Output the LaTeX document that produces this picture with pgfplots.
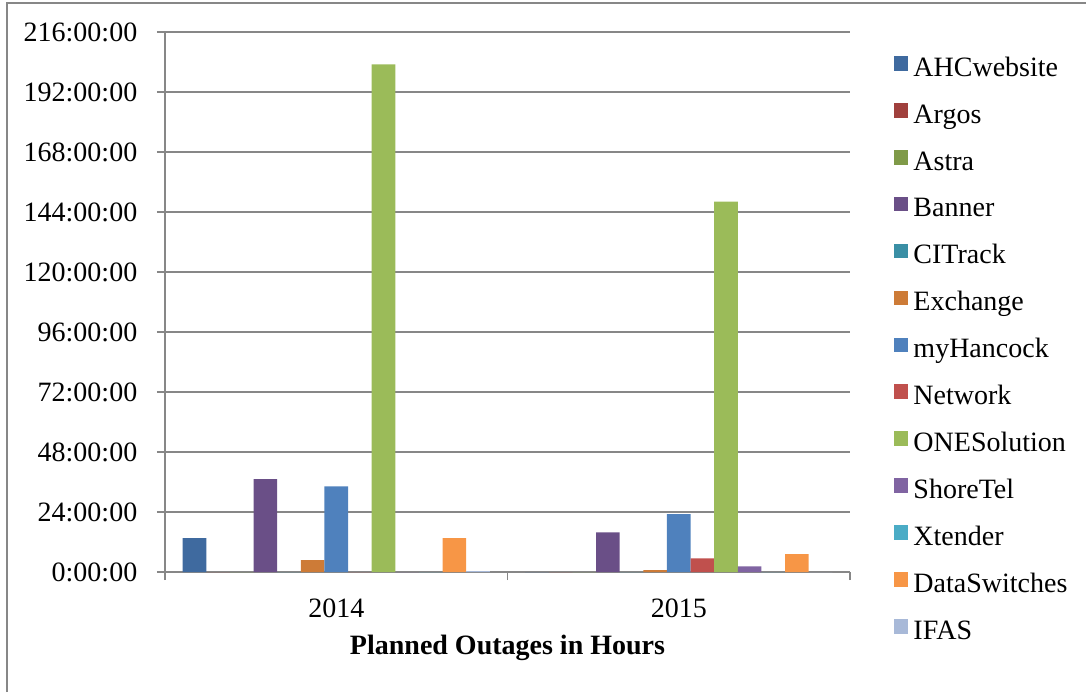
\documentclass[border=0pt]{standalone}
\usepackage{pgfplots}
\pgfplotsset{compat=1.18}
\usepackage{fontspec}
\setmainfont{Liberation Serif}

\definecolor{cAHC}{HTML}{3F6A9F}
\definecolor{cArgos}{HTML}{A0403D}
\definecolor{cAstra}{HTML}{7F9A48}
\definecolor{cBanner}{HTML}{6A4F87}
\definecolor{cCITrack}{HTML}{3A8FA5}
\definecolor{cExchange}{HTML}{CD7B37}
\definecolor{cmyHancock}{HTML}{4F81BD}
\definecolor{cNetwork}{HTML}{C0504D}
\definecolor{cONE}{HTML}{9BBB59}
\definecolor{cShoreTel}{HTML}{8064A2}
\definecolor{cXtender}{HTML}{4BACC6}
\definecolor{cDataSw}{HTML}{F79646}
\definecolor{cIFAS}{HTML}{A8B9D8}
\definecolor{axgray}{HTML}{878787}

\begin{document}
\begin{tikzpicture}
\fontsize{14}{16}\selectfont
\useasboundingbox (0,0) rectangle (543pt,346pt);
\begin{axis}[
  at={(82.5pt,60pt)}, anchor=south west,
  scale only axis, width=342.5pt, height=270pt,
  ybar=0pt, bar width=0.069,
  xmin=-0.5, xmax=1.5, ymin=0, ymax=216,
  axis lines*=left,
  axis line style={axgray, line width=0.8pt},
  xtick={0,1}, xticklabels={2014,2015},
  major x tick style={draw=none},
  minor xtick={-0.5,0.5,1.5},
  minor x tick style={axgray, line width=0.8pt},
  minor tick length=4pt,
  ytick={0,24,...,216},
  yticklabels={0:00:00,24:00:00,48:00:00,72:00:00,96:00:00,120:00:00,144:00:00,168:00:00,192:00:00,216:00:00},
  y tick style={axgray, line width=0.8pt},
  major tick length=4pt,
  tick align=outside,
  ymajorgrids, grid style={axgray, line width=0.8pt},
  tick label style={font=\fontsize{14}{16}\selectfont},
  yticklabel style={xshift=-5pt},
  xticklabel style={yshift=-4.5pt},
  xlabel={\textbf{Planned Outages in Hours}},
  xlabel style={font=\fontsize{14}{16}\selectfont, yshift=1pt},
  every axis plot/.append style={draw=none},
  legend cell align=left,
  legend image code/.code={\fill[#1] (0pt,-0.5pt) rectangle (7.3pt,6.8pt);},
  legend style={at={(1.0547,0.9634)}, anchor=north west, draw=none, fill=none,
    font=\fontsize{14}{16}\selectfont, row sep=9.9pt, column sep=2.5pt,
    nodes={inner sep=0pt, text height=10pt, text depth=3.5pt}},
]
\addplot[fill=cAHC] coordinates {(0,13.6) (1,0)};
\addplot[fill=cArgos] coordinates {(0,0) (1,0)};
\addplot[fill=cAstra] coordinates {(0,0) (1,0)};
\addplot[fill=cBanner] coordinates {(0,37.2) (1,15.9)};
\addplot[fill=cCITrack] coordinates {(0,0) (1,0)};
\addplot[fill=cExchange] coordinates {(0,4.8) (1,0.8)};
\addplot[fill=cmyHancock] coordinates {(0,34.3) (1,23.2)};
\addplot[fill=cNetwork] coordinates {(0,0) (1,5.5)};
\addplot[fill=cONE] coordinates {(0,203.1) (1,148.2)};
\addplot[fill=cShoreTel] coordinates {(0,0) (1,2.3)};
\addplot[fill=cXtender] coordinates {(0,0) (1,0)};
\addplot[fill=cDataSw] coordinates {(0,13.6) (1,7.2)};
\addplot[fill=cIFAS] coordinates {(0,0.4) (1,0)};
\legend{AHCwebsite,Argos,Astra,Banner,CITrack,Exchange,myHancock,Network,ONESolution,ShoreTel,Xtender,DataSwitches,IFAS}
\end{axis}
\draw[axgray, line width=0.6pt] (3.5pt,0pt) -- (3.5pt,344.5pt) -- (543pt,344.5pt);
\end{tikzpicture}
\end{document}
